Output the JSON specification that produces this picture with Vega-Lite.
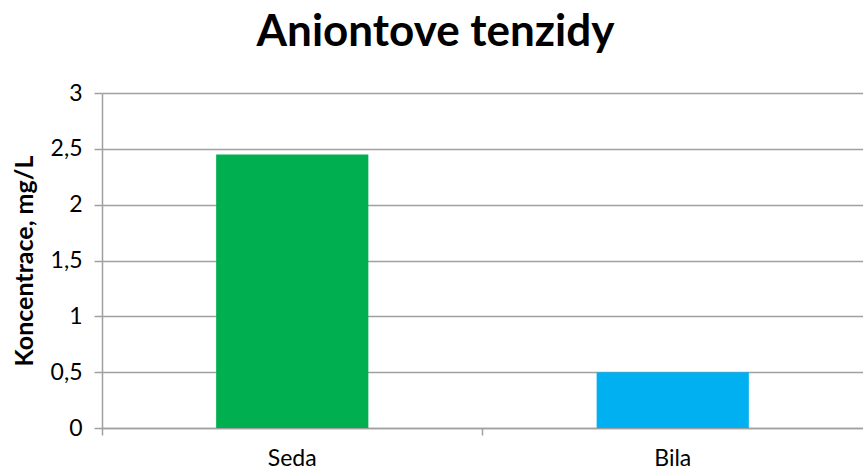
{
  "$schema": "https://vega.github.io/schema/vega-lite/v6.json",
  "width": 761,
  "height": 335,
  "autosize": {"type": "none"},
  "padding": {"left": 102, "top": 93, "right": 0, "bottom": 45},
  "background": "white",
  "title": {
    "text": "Aniontove tenzidy",
    "font": "Lato",
    "fontSize": 44,
    "fontWeight": "bold",
    "color": "#000000",
    "anchor": "middle",
    "dx": -47,
    "offset": 27
  },
  "data": {
    "values": [
      {"kategorie": "Seda", "koncentrace": 2.45},
      {"kategorie": "Bila", "koncentrace": 0.5}
    ]
  },
  "config": {"view": {"stroke": null}},
  "mark": {"type": "bar", "width": {"band": 0.4}},
  "encoding": {
    "x": {
      "field": "kategorie",
      "type": "nominal",
      "sort": null,
      "scale": {"paddingInner": 0, "paddingOuter": 0},
      "axis": {
        "title": null,
        "labelAngle": 0,
        "labelFont": "Lato",
        "labelFontSize": 23,
        "labelColor": "#000000",
        "labelPadding": 12,
        "domainColor": "#a0a0a0",
        "domainWidth": 1.5,
        "tickColor": "#a0a0a0",
        "tickSize": 7,
        "tickWidth": 1.5,
        "bandPosition": 0,
        "grid": false
      }
    },
    "y": {
      "field": "koncentrace",
      "type": "quantitative",
      "scale": {"domain": [0, 3], "nice": false},
      "axis": {
        "title": "Koncentrace, mg/L",
        "titleFont": "Lato",
        "titleFontSize": 25,
        "titleFontWeight": "bold",
        "titleColor": "#000000",
        "titlePadding": 13,
        "values": [0, 0.5, 1, 1.5, 2, 2.5, 3],
        "format": "~g",
        "labelExpr": "replace(datum.label, '.', ',')",
        "labelFont": "Lato",
        "labelFontSize": 23,
        "labelColor": "#000000",
        "labelPadding": 12,
        "domainColor": "#a0a0a0",
        "domainWidth": 1.5,
        "tickColor": "#a0a0a0",
        "tickSize": 8,
        "tickWidth": 1.5,
        "grid": true,
        "gridColor": "#a0a0a0",
        "gridWidth": 1.5
      }
    },
    "color": {
      "field": "kategorie",
      "type": "nominal",
      "scale": {"domain": ["Seda", "Bila"], "range": ["#00B050", "#00B0F0"]},
      "legend": null
    }
  }
}
